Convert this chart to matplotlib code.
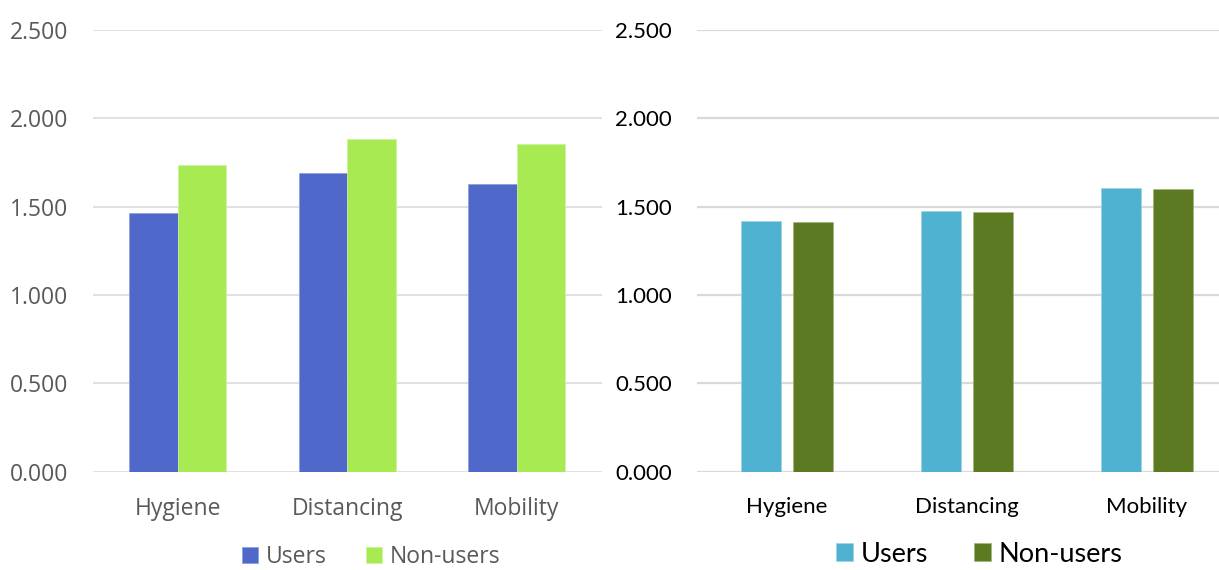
import numpy as np
import matplotlib
matplotlib.use("Agg")
import matplotlib.pyplot as plt
from matplotlib.ticker import FormatStrFormatter

# ----- data -----
categories = ["Hygiene", "Distancing", "Mobility"]
series_names = ["Users", "Non-users"]

left_users = [1.462, 1.690, 1.628]
left_nonusers = [1.736, 1.883, 1.855]

right_users = [1.419, 1.475, 1.605]
right_nonusers = [1.411, 1.470, 1.598]

yticks = [0.0, 0.5, 1.0, 1.5, 2.0, 2.5]

W, H = 1219, 570
fig = plt.figure(figsize=(W / 100, H / 100), dpi=100)


def px_axes(x0, x1, y_top, y_bot):
    # axes rectangle from pixel coordinates
    return fig.add_axes([x0 / W, 1 - y_bot / H, (x1 - x0) / W, (y_bot - y_top) / H])


def style_axes(ax, font, size, color, grid_lw, xpad):
    ax.set_ylim(0, 2.5)
    ax.set_xlim(-0.5, 2.5)
    ax.set_yticks(yticks)
    ax.yaxis.set_major_formatter(FormatStrFormatter("%.3f"))
    ax.set_xticks(np.arange(len(categories)))
    ax.set_xticklabels(categories)
    for s in ax.spines.values():
        s.set_visible(False)
    ax.tick_params(axis="both", length=0, colors=color, labelsize=size)
    ax.tick_params(axis="y", pad=18)
    ax.tick_params(axis="x", pad=xpad)
    for lbl in ax.get_xticklabels() + ax.get_yticklabels():
        lbl.set_family(font)
    ax.grid(axis="y", color="#D9D9D9", linewidth=grid_lw)
    ax.set_axisbelow(True)


x = np.arange(len(categories))

# ----- left chart -----
ax1 = px_axes(93, 601.5, 30, 471.7)
bw = 0.2857
b1 = ax1.bar(x - bw / 2, left_users, bw, color="#4F68C9", edgecolor="#8A9BDB", linewidth=0.5)
b2 = ax1.bar(x + bw / 2, left_nonusers, bw, color="#A8EA52", edgecolor="#CDF29C", linewidth=0.5)
style_axes(ax1, "Open Sans", 16.5, "#595959", 1.1, 18)
fig.legend([b1, b2], series_names, loc="center",
           bbox_to_anchor=(371 / W, 1 - 557 / H), ncol=2, frameon=False,
           prop={"family": "Open Sans", "size": 16.5}, labelcolor="#595959",
           handlelength=0.7, handleheight=0.7, handletextpad=0.35,
           columnspacing=1.7, borderpad=0, borderaxespad=0)

# ----- right chart -----
ax2 = px_axes(697, 1237, 30, 471.7)
bw2 = 0.222
off = 0.143
c1 = ax2.bar(x - off, right_users, bw2, color="#4EB2D0", edgecolor="#9DD3E4", linewidth=0.5)
c2 = ax2.bar(x + off, right_nonusers, bw2, color="#5C7A22", edgecolor="#A3B67A", linewidth=0.5)
style_axes(ax2, "Lato", 16, "#000000", 1.6, 18)
fig.legend([c1, c2], series_names, loc="center",
           bbox_to_anchor=(979 / W, 1 - 554 / H), ncol=2, frameon=False,
           prop={"family": "Lato", "size": 19.5}, labelcolor="#000000",
           handlelength=0.62, handleheight=0.62, handletextpad=0.28,
           columnspacing=1.7, borderpad=0, borderaxespad=0)

fig.savefig("out.png", dpi=100)
